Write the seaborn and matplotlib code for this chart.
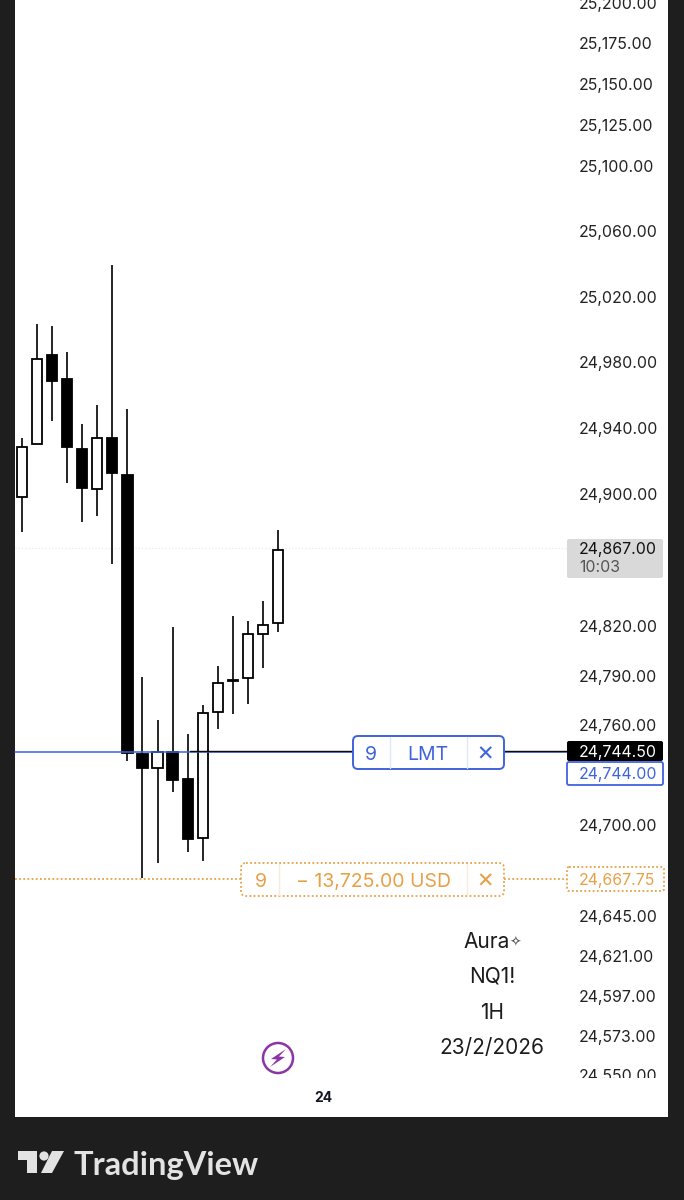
import matplotlib
matplotlib.use("Agg")
import matplotlib.pyplot as plt
from matplotlib.patches import FancyBboxPatch, Rectangle, Circle, Polygon
from matplotlib.transforms import Affine2D, blended_transform_factory
import pandas as pd
import seaborn as sns

# ---- data ----
opens  = [24898.2, 24930.3, 24984.5, 24969.9, 24927.3, 24903.0, 24934.0, 24911.5, 24742.7,
          24734.3, 24743.9, 24727.7, 24692.2, 24768.0, 24787.4, 24788.6, 24815.1, 24821.8]
closes = [24928.5, 24982.2, 24968.7, 24928.5, 24903.6, 24934.0, 24912.7, 24743.3, 24734.3,
          24743.9, 24727.1, 24691.6, 24767.5, 24785.6, 24787.0, 24815.1, 24820.6, 24866.0]
highs  = [24934.0, 25003.4, 25002.1, 24986.3, 24942.5, 24954.0, 25039.4, 24951.6, 24789.2,
          24763.3, 24819.4, 24754.8, 24772.3, 24795.8, 24826.1, 24823.0, 24835.2, 24878.2]
lows   = [24877.0, 24930.3, 24944.3, 24906.7, 24883.0, 24886.7, 24857.5, 24738.5, 24667.8,
          24677.1, 24719.9, 24683.7, 24678.3, 24757.8, 24766.9, 24772.9, 24794.6, 24816.4]
price_ticks = [25200, 25175, 25150, 25125, 25100, 25060, 25020, 24980, 24940, 24900, 24820,
               24790, 24760, 24700, 24645, 24621, 24597, 24573, 24550]
date_tick_pos = [20]
date_tick_labels = ["24"]
last_price = 24867.00
last_countdown = "10:03"
bid_price = 24744.50
limit_price = 24744.00
stop_price = 24667.75
limit_qty, limit_kind = "9", "LMT"
stop_qty, stop_pnl = "9", "\u2212 13,725.00 USD"
watermark_name, watermark_mark = "Aura", "\u2727"
watermark = ["NQ1!", "1H", "23/2/2026"]
brand = "TradingView"

BG = "#1e1e1e"
BLUE = "#3f63dc"
ORANGE = "#e8a046"
PURPLE = "#8a35a6"
FONT = ["Inter", "DejaVu Sans"]
W, H = 684, 1200

sns.set_theme(style="white")
plt.rcParams["font.family"] = FONT

fig = plt.figure(figsize=(W / 100, H / 100), dpi=100, facecolor=BG)
ax = fig.add_axes([15 / W, 1 - 1117 / H, (668 - 15) / W, 1117 / H])
ax.set_facecolor("white")
ax.set_yscale("log")

# wicks through seaborn
idx = list(range(len(opens)))
wicks = pd.DataFrame({"i": idx + idx, "candle": idx + idx, "price": highs + lows})
sns.lineplot(data=wicks, x="i", y="price", units="candle", estimator=None, color="black",
             linewidth=1.2, ax=ax, legend=False, zorder=2, solid_capstyle="butt")

# bodies
for i, o, c in zip(idx, opens, closes):
    up = c >= o
    ax.bar(i, abs(c - o), bottom=min(o, c), width=0.68, color="white" if up else "black",
           edgecolor="black", linewidth=1.3, zorder=3)

ax.set_xlim(-0.465, 42.9)
ax.set_ylim(24524.8, 25201.6)
ax.set_xlabel("")
ax.set_ylabel("")
for s in ax.spines.values():
    s.set_visible(False)

ax.yaxis.tick_right()
ax.yaxis.set_minor_locator(matplotlib.ticker.NullLocator())
ax.set_yticks(price_ticks, [f"{t:,.2f}" for t in price_ticks])
ax.tick_params(axis="y", which="both", length=0, pad=-64, labelsize=11.4, labelcolor="#222222",
               right=False, labelright=True, left=False)
ax.set_xticks(date_tick_pos, date_tick_labels)
ax.tick_params(axis="x", length=0, pad=-19, labelsize=10, labelcolor="#131722")
for t in ax.get_xticklabels():
    t.set_fontweight("bold")

# pixel helpers
px = Affine2D().scale(1 / W, -1 / H).translate(0, 1) + fig.transFigure
xpx_ydata = blended_transform_factory(px, ax.transData)


def box(x0, y0, x1, y1, r=4, **kw):
    kw.setdefault("zorder", 6)
    p = FancyBboxPatch((x0 + r, y0 + r), x1 - x0 - 2 * r, y1 - y0 - 2 * r,
                       boxstyle=f"round,pad={r},rounding_size={r}", transform=px,
                       clip_on=False, mutation_aspect=1, **kw)
    ax.add_patch(p)
    return p


def txt(x, y, s, color="#222222", size=11.4, ha="center", **kw):
    ax.text(x, y, s, color=color, fontsize=size, ha=ha, va="center_baseline",
            transform=px, zorder=8, clip_on=False, **kw)


def line(x0, x1, y, **kw):
    ax.plot([x0, x1], [y, y], transform=xpx_ydata, clip_on=False, **kw)


# hide the cut part of the last axis label
ax.add_patch(Rectangle((570, 1078), 96, 38, transform=px, facecolor="white", edgecolor="none",
                       zorder=5, clip_on=False))

# price lines
DOTS = (0, (1, 1.3))
line(15, 567, last_price, color="#e6e6e6", lw=0.8, ls=(0, (1, 2)), zorder=1)
line(15, 567, limit_price, color=BLUE, lw=1.1, zorder=4.5)
line(190, 567, bid_price, color="#0a0a14", lw=1.0, zorder=4.6)
line(15, 241, stop_price, color=ORANGE, lw=1.3, ls=DOTS, zorder=4)
line(504, 567, stop_price, color=ORANGE, lw=1.3, ls=DOTS, zorder=4)

# last price tag
box(567, 539, 663, 578, r=2, facecolor="#d9d9d9", edgecolor="none")
txt(579, 548, f"{last_price:,.2f}", color="#111111", ha="left")
txt(579, 566, last_countdown, color="#555555", ha="left")

# limit order widget
box(353, 736, 504, 769, r=5, facecolor="white", edgecolor=BLUE, lw=1.4)
for xs in (390, 467):
    ax.plot([xs, xs], [737, 768], transform=px, color="#dfe6f8", lw=1, zorder=7, clip_on=False)
txt(371, 753, limit_qty, color=BLUE, size=14)
txt(428, 753, limit_kind, color=BLUE, size=14)
txt(485, 753, "\u2715", color=BLUE, size=15, family=["DejaVu Sans"])

box(567, 741, 663, 761, r=2, facecolor="black", edgecolor="none")
txt(579, 751, f"{bid_price:,.2f}", color="white", ha="left")
box(567, 762, 663, 785, r=2, facecolor="white", edgecolor=BLUE, lw=1.3)
txt(579, 773, f"{limit_price:,.2f}", color=BLUE, ha="left")

# stop order widget
box(241, 863, 504, 896, r=5, facecolor="white", edgecolor=ORANGE, lw=1.3, ls=DOTS)
for xs in (279, 467):
    ax.plot([xs, xs], [864, 895], transform=px, color="#f8ebd8", lw=1, zorder=7, clip_on=False)
txt(261, 880, stop_qty, color=ORANGE, size=14)
txt(373, 880, stop_pnl, color=ORANGE, size=14)
txt(485, 880, "\u2715", color=ORANGE, size=15, family=["DejaVu Sans"])
box(567, 867, 664, 891, r=2, facecolor="white", edgecolor=ORANGE, lw=1.3, ls=DOTS)
txt(579, 879, f"{stop_price:,.2f}", color=ORANGE, ha="left")

# watermark
txt(463, 940, watermark_name, color="#1c1c1c", size=15, ha="left")
txt(515, 941, watermark_mark, color="#555555", size=10, family=["DejaVu Sans"])
for y, s in zip((975, 1011, 1046), watermark):
    txt(492, y, s, color="#1c1c1c", size=15)

# lightning icon
ax.add_patch(Circle((278, 1058), 15, transform=px, facecolor="none", edgecolor=PURPLE, lw=1.8,
                    zorder=6, clip_on=False))
ax.add_patch(Polygon([(286, 1049), (271, 1059), (277, 1059.5), (270, 1067), (285, 1057), (279, 1056.5)],
                     closed=True, transform=px, facecolor=PURPLE, edgecolor="none", zorder=7, clip_on=False))

# footer logo
LOGO = "#e3e3e3"
for poly in ([(18, 1151), (37, 1151), (37, 1173), (27, 1173), (27, 1160), (18, 1160)],
             [(52, 1151), (64, 1151), (52, 1173), (41, 1173)]):
    ax.add_patch(Polygon(poly, closed=True, transform=px, facecolor=LOGO, edgecolor="none",
                         zorder=7, clip_on=False))
ax.add_patch(Circle((44, 1156), 4.6, transform=px, facecolor=LOGO, edgecolor="none", zorder=7, clip_on=False))
txt(74, 1163, brand, color=LOGO, size=23.5, ha="left", fontweight="bold", family=["Lato", "DejaVu Sans"])

fig.savefig("out.png", dpi=100, facecolor=BG)
